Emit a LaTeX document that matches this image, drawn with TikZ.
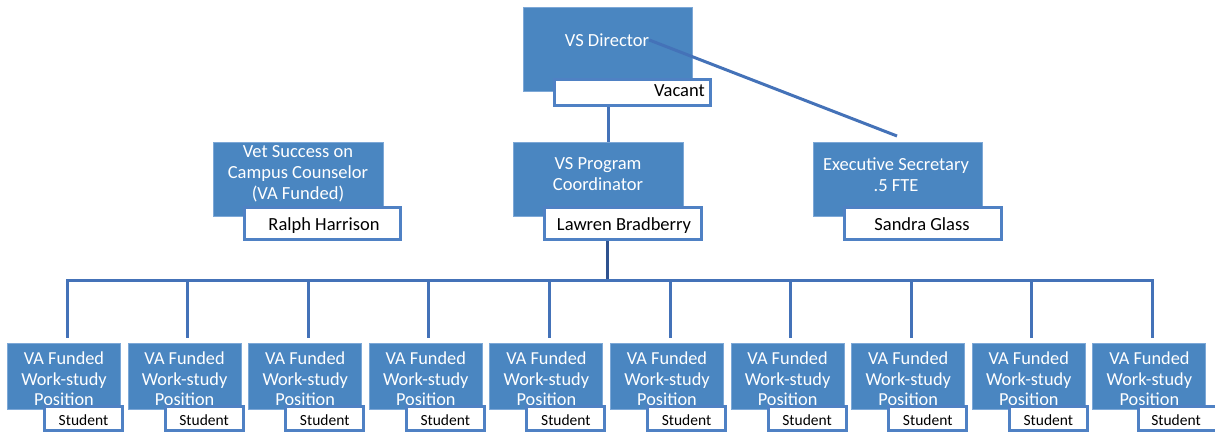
\documentclass[tikz,border=0pt]{standalone}
\usepackage{fontspec}
\setmainfont{Carlito}
\usetikzlibrary{calc}
\definecolor{boxblue}{RGB}{74,134,193}
\definecolor{boxedge}{RGB}{125,168,215}
\definecolor{nameedge}{RGB}{79,129,196}
\definecolor{connblue}{RGB}{68,114,184}
\definecolor{conndark}{RGB}{47,82,143}
\begin{document}
\begin{tikzpicture}[x=1pt,y=-1pt,
  bluebox/.style={rectangle, fill=boxblue, draw=boxedge, line width=1pt, inner sep=0pt},
  bluetext/.style={text=white, align=center, inner sep=0pt, font=\fontsize{18.5}{21}\selectfont},
  smalltext/.style={text=white, align=center, inner sep=0pt, font=\fontsize{18.3}{20.5}\selectfont},
  namebox/.style={rectangle, fill=white, draw=nameedge, line width=3pt, inner sep=0pt},
  nametext/.style={text=black, inner sep=0pt, font=\fontsize{18.5}{21}\selectfont},
  studtext/.style={text=black, inner sep=0pt, font=\fontsize{15.5}{18}\selectfont},
  conn/.style={draw=connblue, line width=3pt},
  conndk/.style={draw=conndark, line width=3pt}
]
\useasboundingbox (0,0) rectangle (1215,433);

% top boxes
\node[bluebox, minimum width=169, minimum height=84] (dir) at (608,49.5) {};
\node[bluebox, minimum width=170, minimum height=74] (vet) at (298.5,179.5) {};
\node[bluebox, minimum width=170, minimum height=74] (pc) at (598.5,179.5) {};
\node[bluebox, minimum width=169, minimum height=74] (ex) at (898,179.5) {};

\node[bluetext] (dirt) at (607,40) {VS Director};
\node[bluetext] (vett) at (298,174) {Vet Success on\\Campus Counselor\\(VA Funded)};
\node[bluetext] (pct) at (598,174.5) {VS Program\\Coordinator};
\node[bluetext] (ext) at (896,174.5) {Executive Secretary\\.5 FTE};

% connectors among top
\draw[conn] (dir.south) -- (dir.south |- pc.north);
\coordinate (bus) at (607.5,280);
\draw[conn] (dirt.east) -- ([xshift=-1pt,yshift=6pt]ex.north);

% name boxes
\node[namebox, minimum width=156, minimum height=26] (dirn) at (632.5,92.5) {};
\node[nametext, anchor=base east] (dirnt) at (705,97) {Vacant};
\node[namebox, minimum width=156, minimum height=32] (vetn) at (322.5,223.5) {};
\node[nametext, anchor=base] (vetnt) at (324,230) {Ralph Harrison};
\node[namebox, minimum width=157, minimum height=32] (pcn) at (623,223.5) {};
\node[nametext, anchor=base] (pcnt) at (624,230) {Lawren Bradberry};
\node[namebox, minimum width=157, minimum height=32] (exn) at (923,223.5) {};
\node[nametext, anchor=base] (exnt) at (922,230) {Sandra Glass};

\draw[conndk] (bus |- pcn.south) -- (bus);

% bottom row
\foreach \i in {0,...,9} {
  \pgfmathsetmacro{\cx}{64+120.6*\i}
  \node[bluebox, minimum width=113, minimum height=66] (w\i) at (\cx,376.5) {};
  \node[smalltext] (wt\i) at (\cx,379) {VA Funded\\Work-study\\Position};
}
\foreach \i in {0,...,8} {
  \pgfmathsetmacro{\nx}{83.5+120.6*\i}
  \node[namebox, minimum width=78, minimum height=24] (s\i) at (\nx,418.5) {};
  \node[studtext, anchor=base] (st\i) at (\nx,425) {Student};
}
\node[namebox, minimum width=78, minimum height=24] (s9) at (1177,418.5) {};
\node[studtext, anchor=base] (st9) at (1176,425) {Student};

% bus
\coordinate (busL) at ([xshift=3pt]w0.north |- bus);
\coordinate (busR) at ([xshift=3pt]w9.north |- bus);
\draw[conn, line cap=rect] (busL) -- (busR);
\foreach \i in {0,...,9} {
  \draw[conn] ([xshift=3pt]w\i.north |- bus) -- ([xshift=3pt,yshift=5pt]w\i.north);
}
\end{tikzpicture}
\end{document}
